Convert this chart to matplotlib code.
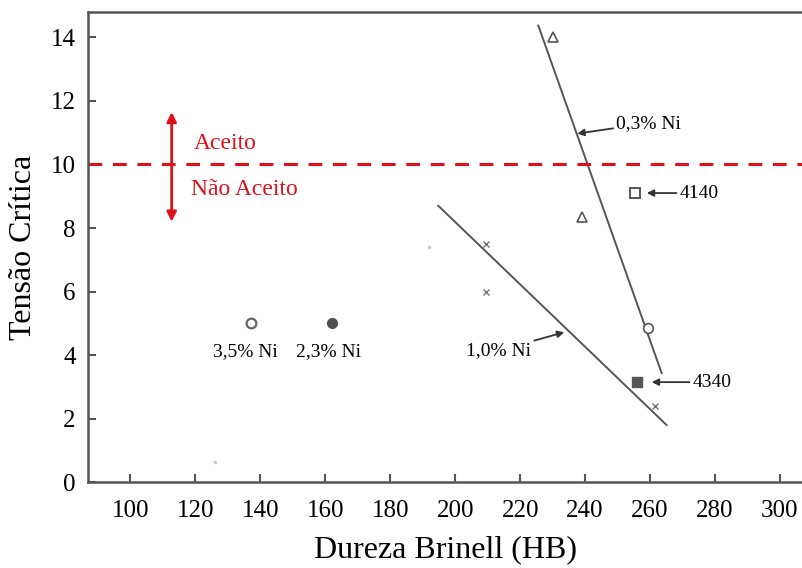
import matplotlib.pyplot as plt

plt.rcParams['font.family'] = ['Liberation Serif', 'DejaVu Serif']

# pontos isolados
ni35_x, ni35_y = [137], [5.0]
ni23_x, ni23_y = [162], [5.0]
# 0,3% Ni (triangulos) e ponto circular proximo
ni03_x, ni03_y = [230, 239], [14.0, 8.35]
ni03c_x, ni03c_y = [259.3], [4.85]
# 1,0% Ni (cruzes)
ni10_x, ni10_y = [209.6, 209.6, 261.4], [7.5, 6.0, 2.4]
# acos 4140 / 4340
a4140_x, a4140_y = [255.5], [9.1]
a4340_x, a4340_y = [256], [3.15]
# retas de tendencia
line03_x, line03_y = [225.6, 263.6], [14.37, 3.43]
line10_x, line10_y = [194.8, 265.1], [8.7, 1.8]
# manchas do scan
speck_x, speck_y = [192, 126], [7.4, 0.63]

limite = 10
xticks = [100, 120, 140, 160, 180, 200, 220, 240, 260, 280, 300]
yticks = [0, 2, 4, 6, 8, 10, 12, 14]

fig = plt.figure(figsize=(8.02, 5.68), dpi=100)
ax = fig.add_axes([0.11, 0.151, 0.89, 0.828])

ax.plot(line03_x, line03_y, color='#555555', lw=1.4)
ax.plot(line10_x, line10_y, color='#555555', lw=1.4)

ax.plot(ni35_x, ni35_y, 'o', mfc='white', mec='#666666', ms=7, mew=1.6)
ax.plot(ni23_x, ni23_y, 'o', color='#505050', ms=7)
ax.plot(ni03_x, ni03_y, '^', mfc='white', mec='#555555', ms=6.5, mew=1.2)
ax.plot(ni03c_x, ni03c_y, 'o', mfc='white', mec='#555555', ms=7, mew=1.2)
ax.plot(ni10_x, ni10_y, 'x', color='#777777', ms=4, mew=1.0)
ax.plot(a4140_x, a4140_y, 's', mfc='white', mec='#555555', ms=7, mew=1.4)
ax.plot(a4340_x, a4340_y, 's', color='#555555', ms=7)
ax.plot(speck_x, speck_y, '.', color='#cccccc', ms=3)

# linha de limite
ax.axhline(limite, color='#e0101a', ls=(0, (4.5, 3.5)), lw=2.2)
ax.annotate('', xy=(112.7, 11.65), xytext=(112.7, 8.2),
            arrowprops=dict(arrowstyle='<|-|>', color='#e0101a', lw=2,
                            mutation_scale=14, shrinkA=0, shrinkB=0))
ax.text(119.5, 10.65, 'Aceito', color='#e0101a', fontsize=17, va='center')
ax.text(118.8, 9.2, 'Não Aceito', color='#e0101a', fontsize=17, va='center')

seta = dict(arrowstyle='-|>', color='#333333', lw=1.3, mutation_scale=10,
            shrinkA=0, shrinkB=0)
ax.annotate('0,3% Ni', xy=(237.6, 10.97), xytext=(249.5, 11.3),
            fontsize=14, va='center', arrowprops=seta)
ax.annotate('4140', xy=(259, 9.1), xytext=(269, 9.1),
            fontsize=14, va='center', arrowprops=seta)
ax.annotate('4340', xy=(260.5, 3.15), xytext=(273, 3.15),
            fontsize=14, va='center', arrowprops=seta)
ax.annotate('1,0% Ni', xy=(233.6, 4.72), xytext=(223.5, 4.15),
            fontsize=14, va='center', ha='right', arrowprops=seta)
ax.text(135.5, 4.1, '3,5% Ni', fontsize=14, ha='center', va='center')
ax.text(161, 4.1, '2,3% Ni', fontsize=14, ha='center', va='center')

ax.set_xlim(87, 306.8)
ax.set_ylim(0, 14.8)
ax.set_xticks(xticks)
ax.set_yticks(yticks)
ax.tick_params(direction='in', length=6, width=1.5, color='#555555',
               labelsize=18, pad=13)
ax.tick_params(axis='y', pad=9)

for s in ['left', 'bottom', 'top']:
    ax.spines[s].set_color('#555555')
    ax.spines[s].set_linewidth(1.8)
ax.spines['right'].set_visible(False)

ax.set_xlabel('Dureza Brinell (HB)', fontsize=23, labelpad=9)
ax.set_ylabel('Tensão Crítica', fontsize=23, labelpad=9)

fig.savefig('out.png', dpi=100)
